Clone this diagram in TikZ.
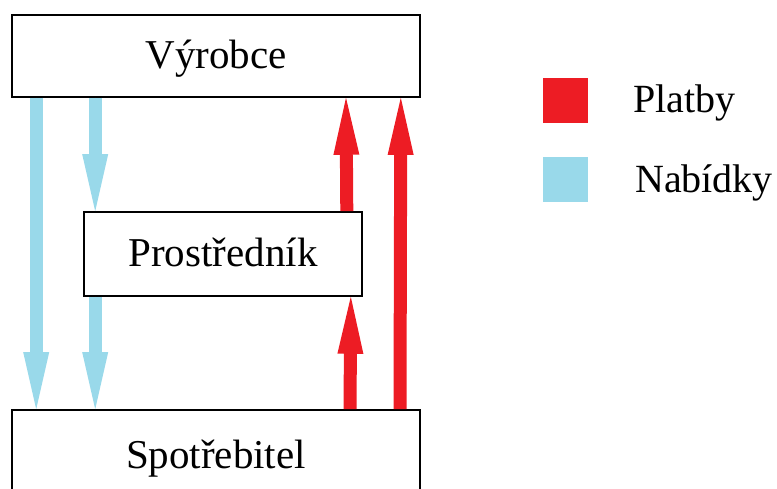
\documentclass[tikz,border=0pt]{standalone}
\usepackage{fontspec}
\setmainfont{Liberation Serif}
\usepackage{xcolor}
\usetikzlibrary{arrows.meta, positioning}
\definecolor{paycol}{RGB}{237,28,36}
\definecolor{offercol}{RGB}{153,217,234}
\tikzset{
  party/.style={
    draw=black, line width=1.6pt, fill=white, inner sep=0pt,
    text height=28pt, text depth=2pt, font=\fontsize{41}{48}\selectfont
  },
  flow/.style={line width=13pt, -{Triangle[width=26pt, length=57pt, line width=0pt]}},
  payment/.style={flow, draw=paycol, fill=paycol},
  offer/.style={flow, draw=offercol, fill=offercol},
  key/.style={minimum size=45pt, inner sep=0pt},
  keytext/.style={anchor=base west, inner sep=0pt, font=\fontsize{40}{48}\selectfont},
}
\begin{document}
\begin{tikzpicture}[x=1pt, y=-1pt]
  \useasboundingbox (0,0) rectangle (777,489);

  % the three parties
  \node[party, minimum width=408pt, minimum height=82pt] (maker) at (216,56) {Výrobce};
  \node[party, minimum width=278pt, minimum height=84pt] (broker) at (223,254) {Prostředník};
  \node[party, minimum width=408pt, minimum height=90pt] (buyer) at (216,455) {Spotřebitel};

  % offers go down
  \draw[offer] ([xshift=25pt]maker.south west) -- ([xshift=25pt]buyer.north west);
  \draw[offer] ([xshift=84pt]maker.south west) -- ([xshift=12pt]broker.north west);
  \draw[offer] ([xshift=12pt]broker.south west) -- ([xshift=84pt]buyer.north west);

  % payments go up
  \draw[payment] ([xshift=-16pt]broker.north east) -- ([xshift=130pt]maker.south);
  \draw[payment] ([xshift=134pt]buyer.north) -- ([xshift=-12pt]broker.south east);
  \draw[payment] ([xshift=184pt]buyer.north) -- ([xshift=-20pt]maker.south east);

  % legend
  \node[key, fill=paycol] (keypay) at (565,100.5) {};
  \node[key, fill=offercol] (keyoffer) at (565,179.5) {};
  \node[keytext] (txtpay) at (633,113) {Platby};
  \node[keytext] (txtoffer) at (635,193) {Nabídky};
\end{tikzpicture}
\end{document}
